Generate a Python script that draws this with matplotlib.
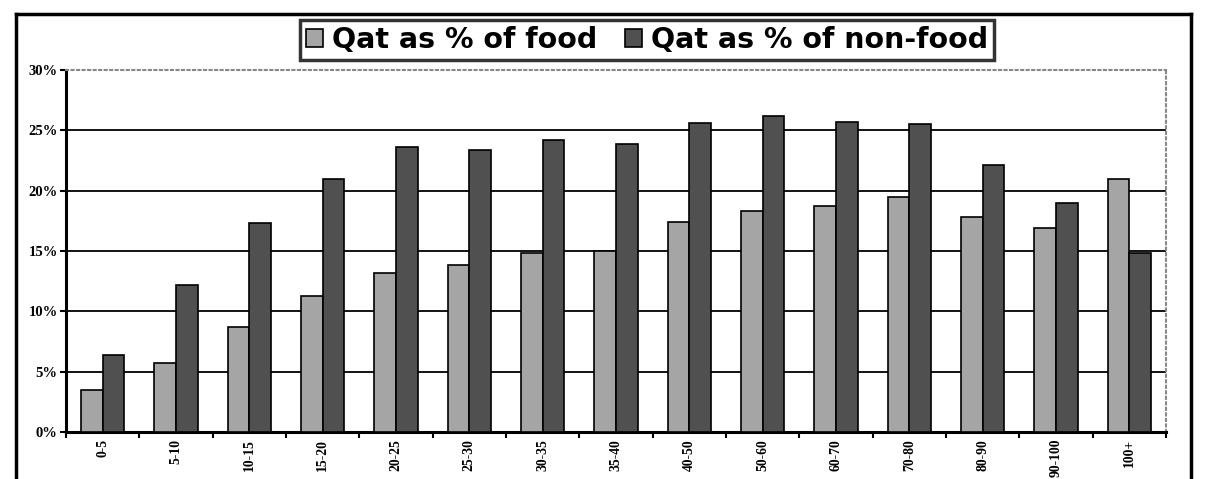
import matplotlib.pyplot as plt
import numpy as np
from matplotlib.lines import Line2D
from matplotlib.ticker import FixedLocator

# expenditure groups and qat shares (%)
groups = ["0-5", "5-10", "10-15", "15-20", "20-25", "25-30", "30-35", "35-40",
          "40-50", "50-60", "60-70", "70-80", "80-90", "90-100", "100+"]
qat_food = [3.5, 5.7, 8.7, 11.3, 13.2, 13.8, 14.8, 15.0,
            17.4, 18.3, 18.7, 19.5, 17.8, 16.9, 21.0]
qat_nonfood = [6.4, 12.2, 17.3, 21.0, 23.6, 23.4, 24.2, 23.9,
               25.6, 26.2, 25.7, 25.5, 22.1, 19.0, 14.8]
yticks = [0, 5, 10, 15, 20, 25, 30]

fig = plt.figure(figsize=(12.1, 4.79), dpi=100)
ax = fig.add_axes([66 / 1210, 1 - 432 / 479, 1100 / 1210, 362 / 479])

x = np.arange(len(groups))
w = 0.295
ax.bar(x - w / 2, qat_food, w, color="#a5a5a5", edgecolor="black", linewidth=1.2,
       label="Qat as % of food", zorder=3)
ax.bar(x + w / 2, qat_nonfood, w, color="#505050", edgecolor="black", linewidth=1.2,
       label="Qat as % of non-food", zorder=3)

ax.set_xlim(-0.5, len(groups) - 0.5)
ax.set_ylim(0, 30)
ax.set_yticks(yticks)
ax.set_yticklabels([f"{v}%" for v in yticks], fontfamily="Liberation Serif",
                   fontweight="bold", fontsize=10.5)
for v in yticks[1:-1]:
    ax.axhline(v, color="black", linewidth=1.3, zorder=1)

ax.set_xticks(x)
ax.set_xticklabels(groups, rotation=90, fontfamily="Liberation Serif",
                   fontweight="bold", fontsize=9.8)
ax.xaxis.set_minor_locator(FixedLocator(np.arange(-0.5, len(groups), 1)))
ax.tick_params(axis="x", which="major", length=0, pad=5)
ax.tick_params(axis="x", which="minor", length=4, width=1.5, direction="out")
ax.tick_params(axis="y", length=4, width=1.5, direction="out", pad=2)

ax.spines["left"].set_linewidth(2.2)
ax.spines["bottom"].set_linewidth(2.2)
for s in ["top", "right"]:
    ax.spines[s].set_color("#888888")
    ax.spines[s].set_linestyle(":")
    ax.spines[s].set_linewidth(1.5)

# legend box above the plot
leg = fig.legend(loc="center", bbox_to_anchor=(647 / 1210, 1 - 40 / 479), ncol=2,
                 frameon=True, fancybox=False, edgecolor="black",
                 prop={"family": "DejaVu Sans", "weight": "bold", "size": 20.5},
                 handlelength=0.6, handleheight=0.6, handletextpad=0.3,
                 columnspacing=1.0, borderpad=0.2, borderaxespad=0)
leg.get_frame().set_linewidth(2.5)

# outer chart frame
fig.add_artist(Line2D([16 / 1210, 16 / 1210], [0, 1 - 14 / 479], color="black", lw=2.5))
fig.add_artist(Line2D([16 / 1210, 1191 / 1210], [1 - 14 / 479, 1 - 14 / 479], color="black", lw=2.5))
fig.add_artist(Line2D([1191 / 1210, 1191 / 1210], [0, 1 - 14 / 479], color="black", lw=2.5))

fig.savefig("out.png", dpi=100)
